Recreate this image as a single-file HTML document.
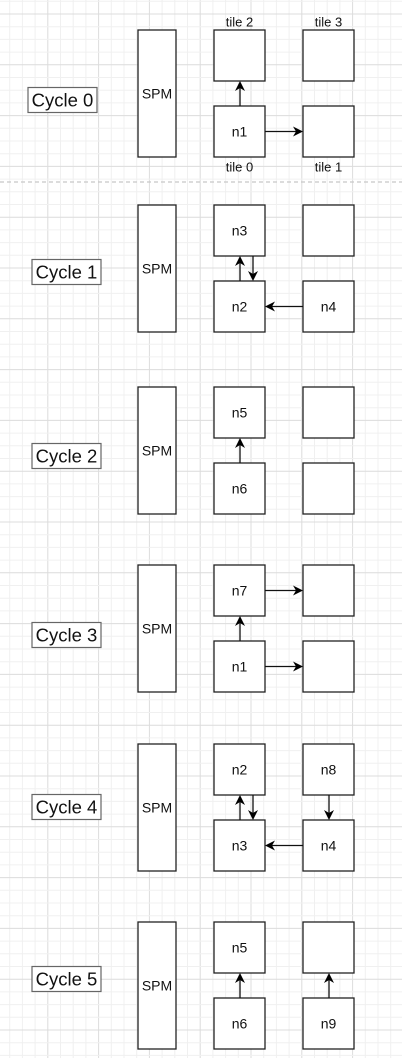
<!DOCTYPE html>
<html><head><meta charset="utf-8">
<style>
html,body{margin:0;padding:0;background:#fff;}
svg{display:block;font-family:"Liberation Sans",Arial,sans-serif;}
</style></head>
<body>
<svg id="d" width="402" height="1058" viewBox="0 0 402 1058" xmlns="http://www.w3.org/2000/svg">
<g id="grid"></g>
<line x1="0" y1="182" x2="402" y2="182" stroke="#c8c8c8" stroke-width="1.2" stroke-dasharray="4,3"/>
<g id="content"></g>
</svg>
<script>
const cycleTops = [30, 205, 387, 565, 744, 922];
const cycleLabelCenters = [100, 272, 456, 635, 807, 979];
const cycleLabels = ["Cycle 0","Cycle 1","Cycle 2","Cycle 3","Cycle 4","Cycle 5"];
const tileTexts = [
  ["", "n1", "", ""],
  ["n3", "n2", "", "n4"],
  ["n5", "n6", "", ""],
  ["n7", "n1", "", ""],
  ["n2", "n3", "n8", "n4"],
  ["n5", "n6", "", "n9"]
];
const arrowSets = [
  ["up","rb"],
  ["up","down","lb"],
  ["up"],
  ["up","rt","rb"],
  ["up","down","lb","dr"],
  ["up","ur"]
];
const NS="http://www.w3.org/2000/svg";
const grid=document.getElementById('grid');
const content=document.getElementById('content');
function mk(tag,attrs,parent){const e=document.createElementNS(NS,tag);for(const k in attrs)e.setAttribute(k,attrs[k]);(parent||content).appendChild(e);return e;}
for(let i=-1;i<40;i++){
  const x=-3+i*12.7;
  const maj=(i%4===0);
  const l=mk('line',{x1:x,y1:0,x2:x,y2:1058,stroke:maj?'#dcdcdc':'#f0f0f0','stroke-width':1},grid);
  
  
}
for(let i=-1;i<90;i++){
  const y=14-50.8+i*12.7;
  const maj=(i%4===0);
  const l=mk('line',{x1:0,y1:y,x2:402,y2:y,stroke:maj?'#dcdcdc':'#f0f0f0','stroke-width':1},grid);
  
  
}
function box(x,y,w,h,name){const r=mk('rect',{x:x,y:y,width:w,height:h,fill:'#fff',stroke:'#222','stroke-width':1.3});return r;}
function txt(x,y,s,size,name){const t=mk('text',{x:x,y:y,'font-size':size,'text-anchor':'middle','dominant-baseline':'central',fill:'#111'});t.textContent=s;return t;}
function arrow(x1,y1,x2,y2,name){
  const g=mk('g',{});
  const dx=x2-x1,dy=y2-y1,L=Math.hypot(dx,dy),ux=dx/L,uy=dy/L;
  const bx=x2-ux*10,by=y2-uy*10;
  mk('line',{x1:x1,y1:y1,x2:x2-ux*6,y2:y2-uy*6,stroke:'#111','stroke-width':1.3},g);
  const px=-uy,py=ux;
  mk('path',{d:`M${x2},${y2} L${bx+px*5},${by+py*5} L${x2-ux*7},${y2-uy*7} L${bx-px*5},${by-py*5} Z`,fill:'#000'},g);
}
const LX=214,RX=303,W=51,H=51;
cycleTops.forEach((t,c)=>{
  const mid=t+63.5;
  const lc=cycleLabelCenters[c];
  const lbx=c===0?28:32, lby=lc-12.5;
  const lr=mk('rect',{x:lbx,y:lby,width:69,height:25,fill:'#fff',stroke:'#666','stroke-width':1.2});
  
  txt(lbx+34.5,lc,cycleLabels[c],18.5,'cycle-label');
  box(138,t,38,127,'spm-block');
  txt(157,mid,'SPM',14,'spm-label');
  const tops=[[LX,t],[LX,t+76],[RX,t],[RX,t+76]];
  tops.forEach((p,i)=>{box(p[0],p[1],W,H,'tile-'+['2','0','3','1'][i]);if(tileTexts[c][i])txt(p[0]+25.5,p[1]+25.5,tileTexts[c][i],14,'node-label');});
  const s=arrowSets[c];
  const two=s.includes('down');
  if(s.includes('up'))arrow(240,t+76,240,t+51,'arrow-up');
  if(two)arrow(253,t+51,253,t+76,'arrow-down');
  if(s.includes('rb'))arrow(265,t+101.5,303,t+101.5,'arrow-right-bottom');
  if(s.includes('rt'))arrow(265,t+25.5,303,t+25.5,'arrow-right-top');
  if(s.includes('lb'))arrow(303,t+101.5,265,t+101.5,'arrow-left-bottom');
  if(s.includes('dr'))arrow(329,t+51,329,t+76,'arrow-down-right');
  if(s.includes('ur'))arrow(329,t+76,329,t+51,'arrow-up-right');
});
txt(239.5,22,'tile 2',13,'tile-2-label');
txt(328.5,22,'tile 3',13,'tile-3-label');
txt(239.5,167,'tile 0',13,'tile-0-label');
txt(328.5,167,'tile 1',13,'tile-1-label');
</script>
</body></html>
